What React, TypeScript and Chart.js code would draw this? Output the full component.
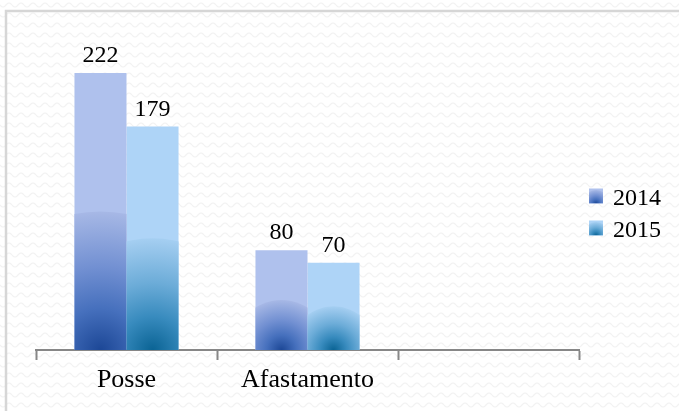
import React, { useEffect, useRef } from "react";
import { Chart, registerables } from "chart.js";

Chart.register(...registerables);

const categories = ["Posse", "Afastamento", ""];
const seriesNames = ["2014", "2015"];
const values2014 = [222, 80, null];
const values2015 = [179, 70, null];
const yMax = 250;

const baseColors = ["#afc1ed", "#aed4f7"];
const gradientStops: [number, string][][] = [
  [
    [0, "#1c4796"],
    [0.3, "#4670bd"],
    [0.6, "#7290d2"],
    [0.95, "#a0b3e3"],
    [1, "#a7b8e6"],
  ],
  [
    [0, "#0a6394"],
    [0.3, "#388bbe"],
    [0.6, "#6cacd8"],
    [0.95, "#9ecaee"],
    [1, "#a5cff2"],
  ],
];

const FONT = "'Liberation Serif', 'Times New Roman', serif";

function makePattern(ctx: CanvasRenderingContext2D) {
  const c = document.createElement("canvas");
  c.width = 12;
  c.height = 10;
  const p = c.getContext("2d")!;
  p.fillStyle = "#ffffff";
  p.fillRect(0, 0, 12, 10);
  p.strokeStyle = "#f2f2f2";
  p.lineWidth = 1.2;
  p.beginPath();
  for (let x = 0; x <= 12; x += 0.5) {
    const y = 5 + 2 * Math.sin((x / 12) * Math.PI * 2);
    if (x === 0) p.moveTo(x, y);
    else p.lineTo(x, y);
  }
  p.stroke();
  return ctx.createPattern(c, "repeat");
}

const backgroundPlugin = {
  id: "bgPattern",
  beforeDraw(chart: any) {
    const ctx = chart.ctx as CanvasRenderingContext2D;
    ctx.save();
    const pat = makePattern(ctx);
    if (pat) ctx.fillStyle = pat;
    ctx.fillRect(0, 0, chart.width, chart.height);
    ctx.strokeStyle = "#d6d6d6";
    ctx.lineWidth = 2.5;
    ctx.beginPath();
    ctx.moveTo(6, chart.height + 2);
    ctx.lineTo(6, 11);
    ctx.lineTo(chart.width + 2, 11);
    ctx.stroke();
    ctx.restore();
  },
};

function fillRadial(
  ctx: CanvasRenderingContext2D,
  cx: number,
  cy: number,
  r: number,
  stops: [number, string][]
) {
  const g = ctx.createRadialGradient(cx, cy, 0, cx, cy, r);
  stops.forEach(([o, c]) => g.addColorStop(o, c));
  ctx.fillStyle = g;
  ctx.beginPath();
  ctx.arc(cx, cy, r, Math.PI, Math.PI * 2);
  ctx.closePath();
  ctx.fill();
}

const barDecorPlugin = {
  id: "barDecor",
  afterDatasetsDraw(chart: any) {
    const ctx = chart.ctx as CanvasRenderingContext2D;
    chart.data.datasets.forEach((ds: any, di: number) => {
      const meta = chart.getDatasetMeta(di);
      meta.data.forEach((el: any, i: number) => {
        const v = ds.data[i];
        if (v == null) return;
        const { x, y, base, width } = el.getProps(["x", "y", "base", "width"], true);
        const h = base - y;
        ctx.save();
        ctx.beginPath();
        ctx.rect(x - width / 2, y, width, h);
        ctx.clip();
        fillRadial(ctx, x, base, h / 2, gradientStops[di]);
        ctx.restore();
        ctx.save();
        ctx.fillStyle = "#000";
        ctx.font = `24px ${FONT}`;
        ctx.textAlign = "center";
        ctx.textBaseline = "alphabetic";
        ctx.fillText(String(v), x, y - 11);
        ctx.restore();
      });
    });
  },
  afterDraw(chart: any) {
    const ctx = chart.ctx as CanvasRenderingContext2D;
    const area = chart.chartArea;
    const mid = (area.top + area.bottom) / 2;
    seriesNames.forEach((name, i) => {
      const cy = mid + 5 + i * 32;
      const bx = area.right + 10;
      const bw = 14;
      const bh = 15;
      const by = cy - 3 - bh / 2;
      ctx.save();
      ctx.fillStyle = baseColors[i];
      ctx.fillRect(bx, by, bw, bh);
      ctx.beginPath();
      ctx.rect(bx, by, bw, bh);
      ctx.clip();
      fillRadial(ctx, bx + bw / 2, by + bh, bh * 0.9, gradientStops[i]);
      ctx.restore();
      ctx.save();
      ctx.fillStyle = "#000";
      ctx.font = `24px ${FONT}`;
      ctx.textAlign = "left";
      ctx.textBaseline = "middle";
      ctx.fillText(name, bx + 24, cy);
      ctx.restore();
    });
  },
};

export default function App() {
  const ref = useRef<HTMLCanvasElement | null>(null);
  useEffect(() => {
    document.body.style.margin = "0";
    const canvas = ref.current!;
    const chart = new Chart(canvas, {
      type: "bar",
      data: {
        labels: categories,
        datasets: [
          { label: seriesNames[0], data: values2014, backgroundColor: baseColors[0], borderWidth: 0 },
          { label: seriesNames[1], data: values2015, backgroundColor: baseColors[1], borderWidth: 0 },
        ],
      },
      options: {
        responsive: false,
        animation: false,
        events: [],
        datasets: {
          bar: { categoryPercentage: 0.575, barPercentage: 1 },
        },
        layout: { padding: { top: 38, left: 36, right: 100, bottom: 0 } },
        plugins: {
          legend: { display: false },
          tooltip: { enabled: false },
          title: { display: false },
        },
        scales: {
          x: {
            offset: true,
            grid: {
              offset: true,
              drawOnChartArea: false,
              drawTicks: true,
              tickLength: 10,
              tickColor: "#878787",
              tickWidth: 2,
              color: "#878787",
            },
            border: { display: true, color: "#878787", width: 2 },
            ticks: {
              color: "#000",
              font: { family: FONT, size: 26 },
              padding: 5,
              maxRotation: 0,
              autoSkip: false,
            },
            afterFit(scale: any) {
              scale.height = 61;
            },
          },
          y: {
            display: false,
            min: 0,
            max: yMax,
          },
        },
      },
      plugins: [backgroundPlugin, barDecorPlugin],
    } as any);
    return () => chart.destroy();
  }, []);
  return (
    <div style={{ width: 679, height: 411 }}>
      <canvas ref={ref} width={679} height={411} style={{ display: "block" }} />
    </div>
  );
}
